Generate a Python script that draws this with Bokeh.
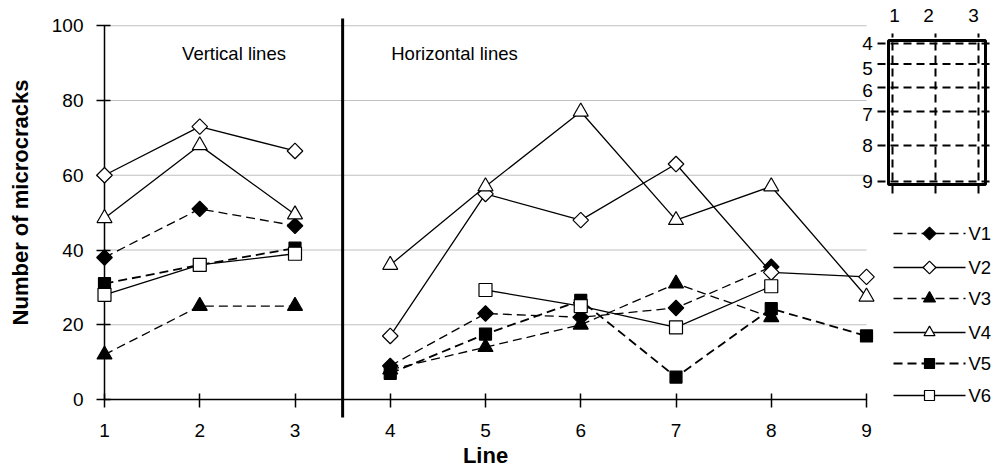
import numpy as np
from bokeh.plotting import figure
from bokeh.models import Range1d, FixedTicker
from bokeh.core.properties import value
from bokeh.embed import file_html
from bokeh.resources import INLINE

# ---------------- data ----------------
nan = float("nan")
LINES = [1, 2, 3, 4, 5, 6, 7, 8, 9]
SERIES = ["V1", "V2", "V3", "V4", "V5", "V6"]
V1 = [38, 51, 46.5, 9, 23, 22, 24.5, 35.5, nan]
V2 = [60, 73, 66.5, 17, 55, 48, 63, 34, 32.8]
V3 = [12, 25, 25, 8, 14, 20, 31, 22, nan]
V4 = [48.5, 68, 49.5, 36, 57, 77, 48, 57, 27.5]
V5 = [31, 36, 40.5, 7, 17.5, 26.5, 6, 24.3, 17]
V6 = [28, 36, 39, nan, 29.3, 25, 19.3, 30.3, nan]
Y_TICKS = [0, 20, 40, 60, 80, 100]
GROUP_TITLES = ["Vertical lines", "Horizontal lines"]
INSET_COLS = ["1", "2", "3"]
INSET_ROWS = ["4", "5", "6", "7", "8", "9"]
DIVIDER = 3.5  # between line 3 (vertical) and line 4 (horizontal)

FONT = "Liberation Sans"

# pixel helpers for schematic decorations (not data)
PX_X0, PX_PER_X = 104, 95.25
PX_Y0, PX_PER_Y = 399, 3.7375
def dx(px):
    return 1 + (px - PX_X0) / PX_PER_X
def dy(py):
    return (PX_Y0 - py) / PX_PER_Y

W, H = 995, 468
p = figure(width=W, height=H, output_backend="svg", toolbar_location=None,
           x_range=Range1d(1, dx(W)), y_range=Range1d(0, dy(5)),
           min_border_left=104, min_border_right=0, min_border_top=5,
           min_border_bottom=69)
p.outline_line_color = None
p.grid.visible = False
p.background_fill_color = "white"

# gridlines (x from 1 to 9 only)
gy = [t for t in Y_TICKS if t > 0]
p.segment(x0=[LINES[0]] * len(gy), x1=[LINES[-1]] * len(gy), y0=gy, y1=gy,
          line_color="#c0c0c0", line_width=1.2, level="underlay")

# axes
for ax in (p.xaxis[0], p.yaxis[0]):
    ax.axis_line_width = 1.5
    ax.axis_line_color = "black"
    ax.major_tick_line_width = 1.5
    ax.major_tick_line_color = "black"
    ax.major_tick_in = 6
    ax.major_tick_out = 8
    ax.minor_tick_line_color = None
    ax.major_label_text_font = FONT
    ax.major_label_text_font_size = "19px"
    ax.major_label_text_color = "black"

p.xaxis.ticker = FixedTicker(ticks=LINES)
p.xaxis.bounds = (LINES[0], LINES[-1])
p.xaxis.major_label_standoff = 16
p.yaxis.ticker = FixedTicker(ticks=Y_TICKS)
p.yaxis.bounds = (Y_TICKS[0], Y_TICKS[-1])
p.yaxis.major_label_standoff = 13
p.yaxis.axis_label = "Number of microcracks"
p.yaxis.axis_label_text_font = FONT
p.yaxis.axis_label_text_font_style = "bold"
p.yaxis.axis_label_text_font_size = "22px"
p.yaxis.axis_label_text_color = "black"
p.yaxis.axis_label_standoff = 16

# series styles
DIAMOND = dict(marker="square", angle=np.pi / 4)
styles = {
    "V1": dict(dash="9 5", shape=DIAMOND, size=11, lsize=9, fill="black", lw=1.3),
    "V2": dict(dash="solid", shape=DIAMOND, size=11, lsize=9, fill="white", lw=1.3),
    "V3": dict(dash="9 5", shape=dict(marker="triangle", angle=0), size=15, lsize=12, fill="black", lw=1.3),
    "V4": dict(dash="solid", shape=dict(marker="triangle", angle=0), size=15, lsize=11, fill="white", lw=1.3),
    "V5": dict(dash="9 5", shape=dict(marker="square", angle=0), size=12, lsize=10, fill="black", lw=1.8),
    "V6": dict(dash="solid", shape=dict(marker="square", angle=0), size=13, lsize=10, fill="white", lw=1.3),
}
data = dict(zip(SERIES, [V1, V2, V3, V4, V5, V6]))
x_arr = np.array(LINES, dtype=float)
split = LINES.index(4)

for name in SERIES:
    st = styles[name]
    y_arr = np.array(data[name], dtype=float)
    # break between the vertical-line group and the horizontal-line group
    xl = np.insert(x_arr, split, nan)
    yl = np.insert(y_arr, split, nan)
    p.line(xl, yl, line_color="black", line_width=st["lw"], line_dash=st["dash"])
    ok = ~np.isnan(y_arr)
    p.scatter(x_arr[ok], y_arr[ok], size=st["size"], fill_color=st["fill"],
              line_color="black", line_width=1.2, level="annotation", **st["shape"])

# legend (drawn as keys at the right)
LEG_ROWS_PY = [233, 267, 298, 332, 363, 395]
for name, ry in zip(SERIES, LEG_ROWS_PY):
    st = styles[name]
    p.segment(x0=[dx(893)], x1=[dx(965)], y0=[dy(ry)], y1=[dy(ry)],
              line_color="black", line_width=st["lw"], line_dash=st["dash"],
              level="annotation")
    p.scatter([dx(929)], [dy(ry)], size=st["lsize"], fill_color=st["fill"],
              line_color="black", line_width=1.2, level="annotation", **st["shape"])
    p.text(x=[dx(968)], y=[dy(ry)], text=[name], text_font=value(FONT),
           text_font_size="18.5px", text_align="left", text_baseline="middle",
           text_color="black", level="annotation")

# divider between groups
p.segment(x0=[DIVIDER], x1=[DIVIDER], y0=[dy(417)], y1=[dy(18)],
          line_color="black", line_width=3, level="annotation")

# group titles
p.text(x=[dx(233.5), dx(454)], y=[dy(53), dy(53)], text=GROUP_TITLES,
       text_font=value(FONT), text_font_size="18.5px", text_align="center",
       text_baseline="middle", text_color="black")

# inset schematic
col_px = [892, 935, 978]
row_py = [43, 63.5, 87, 111, 145, 181]
p.segment(x0=[dx(v) for v in col_px], x1=[dx(v) for v in col_px],
          y0=[dy(193)] * 3, y1=[dy(33)] * 3,
          line_color="black", line_width=2, line_dash="8 5", level="annotation")
p.segment(x0=[dx(877)] * 6, x1=[dx(993)] * 6,
          y0=[dy(v) for v in row_py], y1=[dy(v) for v in row_py],
          line_color="black", line_width=2, line_dash="8 5", level="annotation")
p.quad(left=[dx(888)], right=[dx(985)], top=[dy(40)], bottom=[dy(184)],
       fill_color=None, line_color="black", line_width=3, level="annotation")
p.text(x=[dx(v) for v in [894, 928, 973]], y=[dy(15)] * 3, text=INSET_COLS,
       text_font=value(FONT), text_font_size="19px", text_align="center",
       text_baseline="middle", text_color="black")
p.text(x=[dx(867)] * 6, y=[dy(v) for v in [43, 68, 90, 114, 145, 181]], text=INSET_ROWS,
       text_font=value(FONT), text_font_size="19px", text_align="center",
       text_baseline="middle", text_color="black")

# x axis title
p.text(x=[5], y=[dy(455)], text=["Line"], text_font=value(FONT),
       text_font_style="bold", text_font_size="22px", text_align="center",
       text_baseline="middle", text_color="black", level="annotation")

open("out.html", "w").write(file_html(p, INLINE))
